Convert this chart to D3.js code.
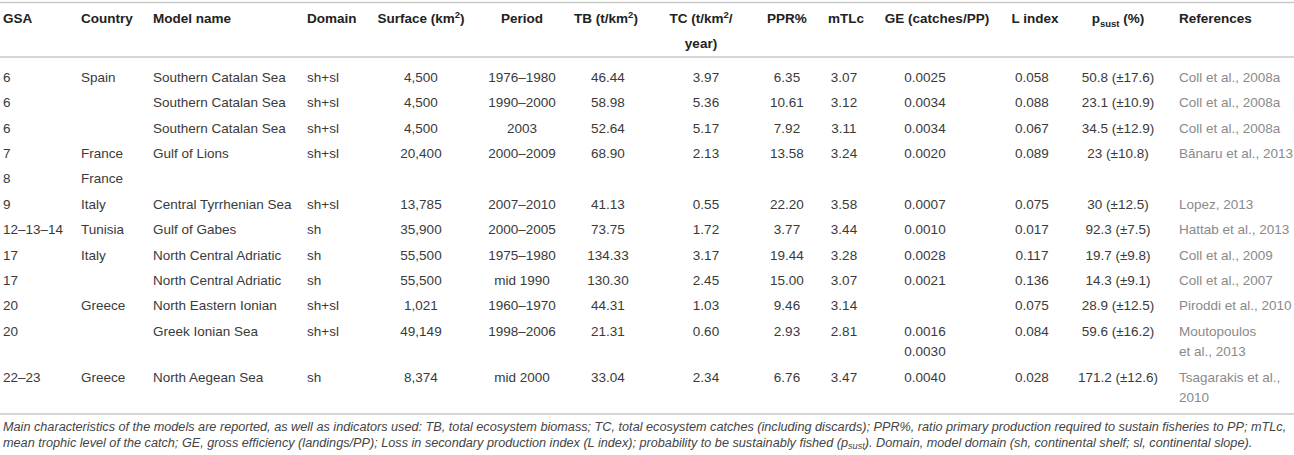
<!DOCTYPE html>
<html>
<head>
<meta charset="utf-8">
<script src="https://cdn.jsdelivr.net/npm/d3@7"></script>
<style>
  body { margin: 0; background: #fff; }
  svg { display: block; font-family: "Liberation Sans", Arial, sans-serif; }
</style>
</head>
<body>
<svg id="chart" width="1294" height="455"></svg>
<script>
// table values, one array per column
var gsa = ['6', '6', '6', '7', '8', '9', '12–13–14', '17', '17', '20', '20', '22–23'];
var country = ['Spain', '', '', 'France', 'France', 'Italy', 'Tunisia', 'Italy', '', 'Greece', '', 'Greece'];
var modelName = ['Southern Catalan Sea', 'Southern Catalan Sea', 'Southern Catalan Sea', 'Gulf of Lions', '',
    'Central Tyrrhenian Sea', 'Gulf of Gabes', 'North Central Adriatic', 'North Central Adriatic',
    'North Eastern Ionian', 'Greek Ionian Sea', 'North Aegean Sea'];
var domain = ['sh+sl', 'sh+sl', 'sh+sl', 'sh+sl', '', 'sh+sl', 'sh', 'sh', 'sh', 'sh+sl', 'sh+sl', 'sh'];
var surface = [4500, 4500, 4500, 20400, null, 13785, 35900, 55500, 55500, 1021, 49149, 8374];
var period = ['1976–1980', '1990–2000', '2003', '2000–2009', '', '2007–2010', '2000–2005', '1975–1980',
    'mid 1990', '1960–1970', '1998–2006', 'mid 2000'];
var tb = [46.44, 58.98, 52.64, 68.90, null, 41.13, 73.75, 134.33, 130.30, 44.31, 21.31, 33.04];
var tc = [3.97, 5.36, 5.17, 2.13, null, 0.55, 1.72, 3.17, 2.45, 1.03, 0.60, 2.34];
var ppr = [6.35, 10.61, 7.92, 13.58, null, 22.20, 3.77, 19.44, 15.00, 9.46, 2.93, 6.76];
var mtlc = [3.07, 3.12, 3.11, 3.24, null, 3.58, 3.44, 3.28, 3.07, 3.14, 2.81, 3.47];
var ge = [[0.0025], [0.0034], [0.0034], [0.0020], [], [0.0007], [0.0010], [0.0028], [0.0021], [], [0.0016, 0.0030], [0.0040]];
var lIndex = [0.058, 0.088, 0.067, 0.089, null, 0.075, 0.017, 0.117, 0.136, 0.075, 0.084, 0.028];
var psustMean = [50.8, 23.1, 34.5, 23, null, 30, 92.3, 19.7, 14.3, 28.9, 59.6, 171.2];
var psustSd = [17.6, 10.9, 12.9, 10.8, null, 12.5, 7.5, 9.8, 9.1, 12.5, 16.2, 12.6];
var references = [['Coll et al., 2008a'], ['Coll et al., 2008a'], ['Coll et al., 2008a'], ['Bănaru et al., 2013'], [],
    ['Lopez, 2013'], ['Hattab et al., 2013'], ['Coll et al., 2009'], ['Coll et al., 2007'],
    ['Piroddi et al., 2010'], ['Moutopoulos', 'et al., 2013'], ['Tsagarakis et al.,', '2010']];

var captionLines = [
    'Main characteristics of the models are reported, as well as indicators used: TB, total ecosystem biomass; TC, total ecosystem catches (including discards); PPR%, ratio primary production required to sustain fisheries to PP; mTLc,',
    'mean trophic level of the catch; GE, gross efficiency (landings/PP); Loss in secondary production index (L index); probability to be sustainably fished (|psust|). Domain, model domain (sh, continental shelf; sl, continental slope).'
];

var f2 = d3.format('.2f'), f3 = d3.format('.3f'), f4 = d3.format('.4f'), fc = d3.format(',');
function num(fmt, v) { return v == null ? [] : [fmt(v)]; }
function str(v) { return v ? [v] : []; }

// header segments: sup / sub parts
var columns = [
    {head: [['GSA']], x: 3, anchor: 'start', cell: function (i) { return str(gsa[i]); }},
    {head: [['Country']], x: 81, anchor: 'start', cell: function (i) { return str(country[i]); }},
    {head: [['Model name']], x: 153, anchor: 'start', cell: function (i) { return str(modelName[i]); }},
    {head: [['Domain']], x: 307, anchor: 'start', cell: function (i) { return str(domain[i]); }},
    {head: [['Surface (km'], ['2', 'sup'], [')']], x: 421, anchor: 'middle', cell: function (i) { return num(fc, surface[i]); }},
    {head: [['Period']], x: 522, anchor: 'middle', cell: function (i) { return str(period[i]); }},
    {head: [['TB (t/km'], ['2', 'sup'], [')']], x: 608, hx: 606, anchor: 'middle', cell: function (i) { return num(f2, tb[i]); }},
    {head: [['TC (t/km'], ['2', 'sup'], ['/']], head2: 'year)', x: 706, hx: 701, anchor: 'middle', cell: function (i) { return num(f2, tc[i]); }},
    {head: [['PPR%']], x: 787, anchor: 'middle', cell: function (i) { return num(f2, ppr[i]); }},
    {head: [['mTLc']], x: 844, hx: 846, anchor: 'middle', cell: function (i) { return num(f2, mtlc[i]); }},
    {head: [['GE (catches/PP)']], x: 925, hx: 937, anchor: 'middle', cell: function (i) { return ge[i].map(f4); }},
    {head: [['L index']], x: 1032, hx: 1035, anchor: 'middle', cell: function (i) { return num(f3, lIndex[i]); }},
    {head: [['p'], ['sust', 'sub'], [' (%)']], x: 1118, anchor: 'middle', cell: function (i) {
        return psustMean[i] == null ? [] : [psustMean[i] + ' (±' + psustSd[i] + ')'];
    }},
    {head: [['References']], x: 1179, anchor: 'start', ref: true, cell: function (i) { return references[i]; }}
];

var svg = d3.select('#chart');
var W = 1294;
var fontSize = 13.5;
var rowH = 25.4, extraLine = 20.5;

// row heights depend on how many lines the tallest cell has
var rowLines = gsa.map(function (d, i) {
    return d3.max(columns, function (c) { return Math.max(1, c.cell(i).length); });
});
var rowTops = [0].concat(Array.from(d3.cumsum(rowLines, function (n) { return rowH + (n - 1) * extraLine; })));
var y = d3.scaleLinear().domain([0, 1]).range([77, 78]);

// rules
function rule(yy) {
    svg.append('line')
        .attr('x1', 0).attr('x2', W)
        .attr('y1', yy).attr('y2', yy)
        .attr('stroke', '#c9c9c9')
        .attr('stroke-width', 1.5);
}
rule(2.5);
rule(57);
rule(414);

// header
function richText(g, segs, x, yy, anchor) {
    var t = g.append('text')
        .attr('x', x).attr('y', yy)
        .attr('text-anchor', anchor);
    var shift = 0;
    segs.forEach(function (s) {
        var sp = t.append('tspan').text(s[0]);
        var want = s[1] === 'sup' ? -5 : s[1] === 'sub' ? 3.5 : 0;
        if (want !== shift) { sp.attr('dy', want - shift); shift = want; }
        if (s[1]) sp.attr('font-size', 9.5);
    });
    return t;
}

var head = svg.append('g')
    .attr('font-weight', 'bold')
    .attr('font-size', fontSize)
    .attr('fill', '#222');
columns.forEach(function (c) {
    var hx = c.hx != null ? c.hx : c.x;
    richText(head, c.head, hx, 23, c.anchor);
    if (c.head2) {
        head.append('text')
            .attr('x', hx).attr('y', 48)
            .attr('text-anchor', c.anchor)
            .text(c.head2);
    }
});

// body
var body = svg.append('g').attr('font-size', fontSize);
gsa.forEach(function (d, i) {
    var cy = y(rowTops[i]);
    columns.forEach(function (c) {
        c.cell(i).forEach(function (line, k) {
            body.append('text')
                .attr('x', c.x)
                .attr('y', cy + k * extraLine)
                .attr('dy', '0.35em')
                .attr('text-anchor', c.anchor)
                .attr('fill', c.ref ? '#8a8a8a' : '#3a3a3a')
                .text(line);
        });
    });
});

// caption; font size picked so the first line runs to the right edge
var capSize = 12.4;
var cap = svg.append('g')
    .attr('font-style', 'italic')
    .attr('fill', '#444');
var capTexts = captionLines.map(function (line, k) {
    var parts = line.split('|');
    var t = cap.append('text')
        .attr('x', 3).attr('y', 431 + k * 15.5);
    parts.forEach(function (p, j) {
        if (j === 1) {
            t.append('tspan').text('p');
            t.append('tspan').attr('class', 'sub').attr('dy', 2.5).text(p.slice(1));
            return;
        }
        var sp = t.append('tspan').text(p);
        if (j === 2) sp.attr('dy', -2.5);
    });
    return t;
});
cap.attr('font-size', capSize);
cap.selectAll('.sub').attr('font-size', capSize * 0.72);
var w0 = capTexts[0].node().getComputedTextLength();
capSize = capSize * 1284 / w0;
cap.attr('font-size', capSize);
cap.selectAll('.sub').attr('font-size', capSize * 0.72);
</script>
</body>
</html>
